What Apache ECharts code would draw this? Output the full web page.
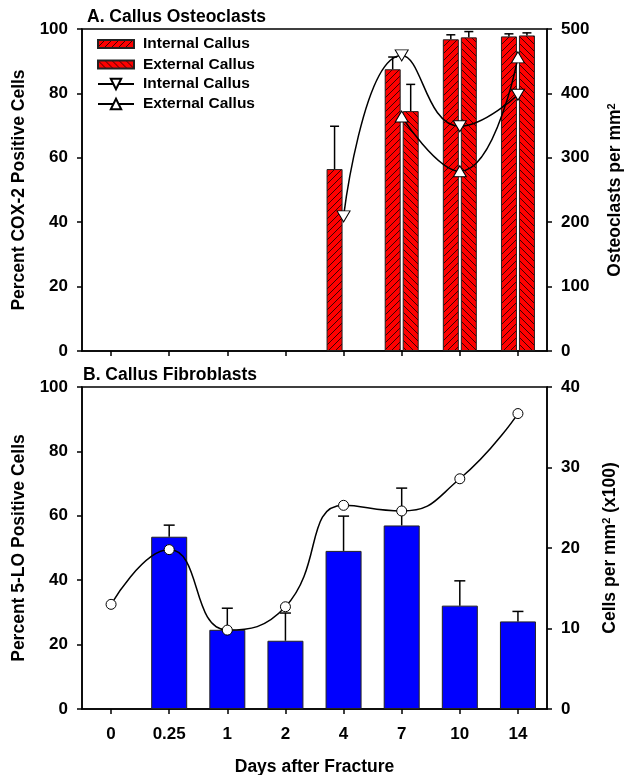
<!DOCTYPE html>
<html>
<head>
<meta charset="utf-8">
<title>Callus osteoclasts and fibroblasts</title>
<script src="https://cdn.jsdelivr.net/npm/echarts@6/dist/echarts.min.js"></script>
<style>
  html, body { margin: 0; padding: 0; background: #fff; }
  #chart { width: 624px; height: 775px; }
</style>
</head>
<body>
<div id="chart"></div>
<script>
// days after fracture
var days = ['0', '0.25', '1', '2', '4', '7', '10', '14']

// A. callus osteoclasts - percent COX-2 positive (bars) + error
var internalPct = [null, null, null, null, 56.5, 87.5, 96.8, 97.7]
var internalPctErr = [null, null, null, null, 13.3, 3.8, 1.4, 0.8]
var externalPct = [null, null, null, null, null, 74.5, 97.4, 98.0]
var externalPctErr = [null, null, null, null, null, 8.3, 1.8, 0.8]
// osteoclasts per mm2 (lines)
var internalOc = [null, null, null, null, 209, 459, 349, 398]
var externalOc = [null, null, null, null, null, 364, 279, 456]

// B. callus fibroblasts - percent 5-LO positive (bars) + error
var fibroPct = [null, 53.5, 24.6, 21.2, 49.1, 57.0, 32.1, 27.2]
var fibroPctErr = [null, 3.6, 6.7, 8.6, 10.8, 11.6, 7.7, 3.1]
// cells per mm2 (x100)
var fibroCells = [13.0, 19.8, 9.8, 12.7, 25.3, 24.6, 28.6, 36.7]

var FONT = 'Liberation Sans'
var barW = 16
var barGapPx = 2

// rows for error bar custom series: [index, value, value + err]
function errRows(vals, errs) {
  var rows = []
  vals.forEach(function (v, i) {
    if (v != null && errs[i] != null) rows.push([i, v, v + errs[i]])
  })
  return rows
}

function errorBar(shift, capW) {
  return function (params, api) {
    var x = api.value(0)
    var p0 = api.coord([x, api.value(1)])
    var p1 = api.coord([x, api.value(2)])
    var cx = p0[0] + shift
    var st = { stroke: '#000', lineWidth: 1.5 }
    return {
      type: 'group',
      children: [
        { type: 'line', shape: { x1: cx, y1: p0[1], x2: cx, y2: p1[1] }, style: st },
        { type: 'line', shape: { x1: cx - capW / 2, y1: p1[1], x2: cx + capW / 2, y2: p1[1] }, style: st }
      ]
    }
  }
}

// red fill with diagonal black hatch; forward = '///', else '\\\'
function hatch(forward) {
  var n = 7
  var c = document.createElement('canvas')
  c.width = n
  c.height = n
  var ctx = c.getContext('2d')
  ctx.fillStyle = '#ff0000'
  ctx.fillRect(0, 0, n, n)
  ctx.strokeStyle = 'rgba(0,0,0,0.85)'
  ctx.lineWidth = 0.9
  ctx.beginPath()
  for (var k = -1; k <= 1; k++) {
    if (forward) {
      ctx.moveTo(k * n, n)
      ctx.lineTo(k * n + n, 0)
    } else {
      ctx.moveTo(k * n, 0)
      ctx.lineTo(k * n + n, n)
    }
  }
  ctx.stroke()
  return { image: c, repeat: 'repeat' }
}

var labelStyle = { color: '#000', fontFamily: FONT, fontWeight: 'bold', fontSize: 17 }
var nameStyle = {
  color: '#000', fontFamily: FONT, fontWeight: 'bold', fontSize: 17.5,
  rich: {
    sup: { fontFamily: FONT, fontWeight: 'bold', fontSize: 11, verticalAlign: 'top', padding: [0, 0, 8, 0] }
  }
}
var axisLine = { show: true, lineStyle: { color: '#000', width: 1.5 } }
var tick = { show: true, inside: false, length: 5, lineStyle: { color: '#000', width: 1.5 } }
var legendText = { fontFamily: FONT, fontWeight: 'bold', fontSize: 15.5, color: '#000', padding: [0, 0, 0, 4] }

var chart = echarts.init(document.getElementById('chart'))

var option = {
  backgroundColor: '#fff',
  animation: false,
  title: [
    { text: 'A. Callus Osteoclasts', left: 82, top: 3, textStyle: { fontFamily: FONT, fontWeight: 'bold', fontSize: 17.5, color: '#000' } },
    { text: 'B. Callus Fibroblasts', left: 78, top: 361, textStyle: { fontFamily: FONT, fontWeight: 'bold', fontSize: 17.5, color: '#000' } }
  ],
  legend: [
    {
      left: 92, top: 31, orient: 'vertical',
      itemWidth: 36, itemHeight: 8, itemGap: 4.5, icon: 'rect',
      data: ['Internal Callus', 'External Callus'],
      textStyle: legendText, selectedMode: false
    },
    {
      left: 92, top: 71, orient: 'vertical',
      itemWidth: 36, itemHeight: 13, itemGap: 4,
      data: ['Internal Callus ', 'External Callus '],
      textStyle: legendText, selectedMode: false
    }
  ],
  grid: [
    { left: 82, right: 77, top: 29, height: 322, outerBoundsMode: 'none', show: true, borderColor: '#000', borderWidth: 1.5 },
    { left: 82, right: 77, top: 387, height: 322, outerBoundsMode: 'none', show: true, borderColor: '#000', borderWidth: 1.5 }
  ],
  xAxis: [
    {
      type: 'category', gridIndex: 0, data: days,
      axisLine: axisLine, axisTick: Object.assign({ alignWithLabel: true }, tick),
      axisLabel: { show: false }
    },
    {
      type: 'category', gridIndex: 1, data: days,
      name: 'Days after Fracture', nameLocation: 'middle', nameGap: 49, nameTextStyle: nameStyle,
      axisLine: axisLine, axisTick: Object.assign({ alignWithLabel: true }, tick),
      axisLabel: Object.assign({ margin: 17 }, labelStyle)
    }
  ],
  yAxis: [
    {
      type: 'value', gridIndex: 0, min: 0, max: 100, interval: 20, position: 'left',
      name: 'Percent COX-2 Positive Cells', nameLocation: 'middle', nameGap: 54, nameRotate: 90, nameTextStyle: nameStyle,
      axisLine: axisLine, axisTick: tick, splitLine: { show: false },
      axisLabel: Object.assign({ margin: 14 }, labelStyle)
    },
    {
      type: 'value', gridIndex: 0, min: 0, max: 500, interval: 100, position: 'right',
      name: 'Osteoclasts per mm{sup|2}', nameLocation: 'middle', nameGap: 59, nameRotate: 90, nameTextStyle: nameStyle,
      axisLine: axisLine, axisTick: tick, splitLine: { show: false },
      axisLabel: Object.assign({ margin: 14 }, labelStyle)
    },
    {
      type: 'value', gridIndex: 1, min: 0, max: 100, interval: 20, position: 'left',
      name: 'Percent 5-LO Positive Cells', nameLocation: 'middle', nameGap: 54, nameRotate: 90, nameTextStyle: nameStyle,
      axisLine: axisLine, axisTick: tick, splitLine: { show: false },
      axisLabel: Object.assign({ margin: 14 }, labelStyle)
    },
    {
      type: 'value', gridIndex: 1, min: 0, max: 40, interval: 10, position: 'right',
      name: 'Cells per mm{sup|2} (x100)', nameLocation: 'middle', nameGap: 54, nameRotate: 90, nameTextStyle: nameStyle,
      axisLine: axisLine, axisTick: tick, splitLine: { show: false },
      axisLabel: Object.assign({ margin: 14 }, labelStyle)
    }
  ],
  series: [
    {
      name: 'Internal Callus', type: 'bar', xAxisIndex: 0, yAxisIndex: 0,
      data: internalPct, barWidth: barW, barGap: (barGapPx / barW * 100) + '%',
      itemStyle: { color: hatch(true), borderColor: '#222', borderWidth: 1 }
    },
    {
      name: 'External Callus', type: 'bar', xAxisIndex: 0, yAxisIndex: 0,
      data: externalPct, barWidth: barW,
      itemStyle: { color: hatch(false), borderColor: '#222', borderWidth: 1 }
    },
    {
      type: 'custom', xAxisIndex: 0, yAxisIndex: 0, z: 3,
      renderItem: errorBar(-(barW + barGapPx) / 2, 9),
      data: errRows(internalPct, internalPctErr)
    },
    {
      type: 'custom', xAxisIndex: 0, yAxisIndex: 0, z: 3,
      renderItem: errorBar((barW + barGapPx) / 2, 9),
      data: errRows(externalPct, externalPctErr)
    },
    {
      name: 'Internal Callus ', type: 'line', xAxisIndex: 0, yAxisIndex: 1, z: 5,
      data: internalOc, smooth: 0.5,
      symbol: 'triangle', symbolRotate: 180, symbolSize: [13, 11],
      lineStyle: { color: '#000', width: 1.5 },
      itemStyle: { color: '#fff', borderColor: '#000', borderWidth: 1 }
    },
    {
      name: 'External Callus ', type: 'line', xAxisIndex: 0, yAxisIndex: 1, z: 5,
      data: externalOc, smooth: 0.5,
      symbol: 'triangle', symbolSize: [13, 11],
      lineStyle: { color: '#000', width: 1.5 },
      itemStyle: { color: '#fff', borderColor: '#000', borderWidth: 1 }
    },
    {
      name: '5-LO', type: 'bar', xAxisIndex: 1, yAxisIndex: 2,
      data: fibroPct, barWidth: 36,
      itemStyle: { color: '#0000ff', borderColor: '#222', borderWidth: 1 }
    },
    {
      type: 'custom', xAxisIndex: 1, yAxisIndex: 2, z: 3,
      renderItem: errorBar(0, 11),
      data: errRows(fibroPct, fibroPctErr)
    },
    {
      name: 'Cells', type: 'line', xAxisIndex: 1, yAxisIndex: 3, z: 5,
      data: fibroCells, smooth: 0.5,
      symbol: 'circle', symbolSize: 10,
      lineStyle: { color: '#000', width: 1.5 },
      itemStyle: { color: '#fff', borderColor: '#000', borderWidth: 1 }
    }
  ]
}

chart.setOption(option)
</script>
</body>
</html>
